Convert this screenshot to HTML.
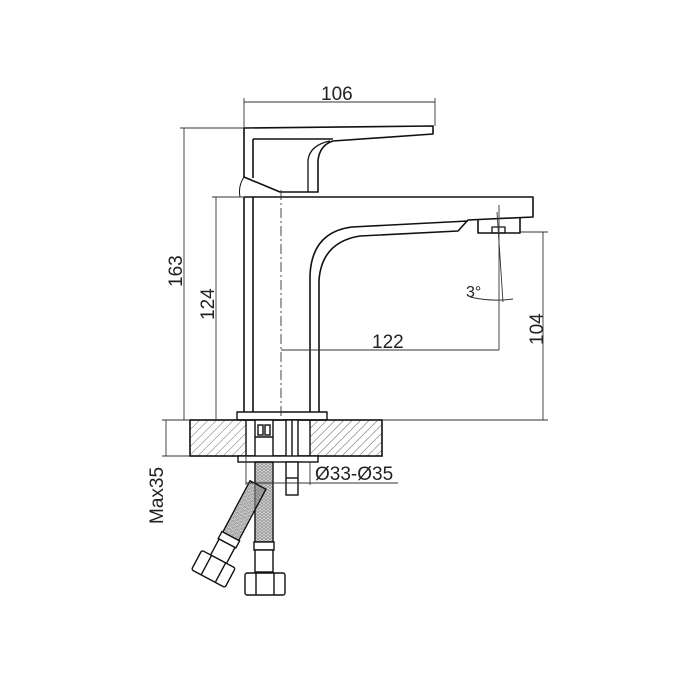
<!DOCTYPE html>
<html><head><meta charset="utf-8"><style>
html,body{margin:0;padding:0;background:#fff}
svg{display:block}
text{font-family:"Liberation Sans",sans-serif;font-size:19px;fill:#222}
</style></head><body>
<svg width="700" height="700" viewBox="0 0 700 700" xmlns="http://www.w3.org/2000/svg">
<defs>
<pattern id="hatch" patternUnits="userSpaceOnUse" width="6" height="6" patternTransform="rotate(45)">
<line x1="0" y1="0" x2="0" y2="6" stroke="#555" stroke-width="0.9"/>
</pattern>
<pattern id="braid" patternUnits="userSpaceOnUse" width="4" height="3">
<path d="M0 0 L2 1.5 L4 0 M0 1.5 L2 3 L4 1.5" stroke="#888" stroke-width="0.8" fill="none"/>
</pattern>
</defs>
<g stroke="#111" stroke-width="1.6" fill="none" stroke-linejoin="round">
<path d="M244 128 L433 126 L433 134 L333 141 Q320 145 318 160 L318 192 L280 192 L244 177 Z" fill="#fff"/>
<path d="M253 139 L253 178 M253 139 L333 139"/>
<path d="M308 192 L308 160 Q310 145 330 141" stroke-width="1.3"/>
<path d="M244 177 Q238 186 240 197" stroke-width="1"/>
<path d="M244 197 L533 197 L533 217 L468 220 L458 231 L360 236 Q322 242 319 280 L319 412 M310 412 L310 275 Q312 232 352 227 L468 221"/>
<line x1="244" y1="197" x2="244" y2="412"/>
<line x1="253" y1="197" x2="253" y2="412"/>
<path d="M478 219 L478 233 L520 233 L520 217"/>
<rect x="492" y="227" width="13" height="6" stroke-width="1.3"/>
<rect x="237" y="412" width="90" height="8" fill="#fff" stroke-width="1.4"/>
</g>
<rect x="190" y="420" width="192" height="36" fill="url(#hatch)" stroke="#111" stroke-width="1.6"/>
<rect x="246" y="421" width="64" height="34" fill="#fff"/>
<g stroke="#111" stroke-width="1.4" fill="none">
<line x1="246" y1="420" x2="246" y2="456"/><line x1="310" y1="420" x2="310" y2="456"/>
<rect x="255" y="420" width="18" height="42" fill="#fff"/>
<rect x="258" y="425" width="5" height="10"/><rect x="265" y="425" width="5" height="10"/>
<line x1="255" y1="437" x2="273" y2="437"/>
<rect x="286" y="420" width="12" height="42" fill="#fff"/>
<line x1="292" y1="420" x2="292" y2="462"/>
<rect x="238" y="456" width="80" height="6" fill="#fff"/>
<rect x="286" y="462" width="12" height="33" fill="#fff"/>
<line x1="286" y1="478" x2="298" y2="478"/>
<rect x="255" y="462" width="18" height="80" fill="url(#braid)"/>
<rect x="254" y="542" width="20" height="8" fill="#fff"/>
<rect x="255" y="550" width="18" height="22" fill="#fff"/>
<rect x="245" y="573" width="40" height="22" rx="2" fill="#fff"/>
<line x1="256" y1="573" x2="256" y2="595"/><line x1="274" y1="573" x2="274" y2="595"/>
<g transform="translate(258 485) rotate(28)">
<rect x="-9" y="0" width="18" height="58" fill="url(#braid)"/>
<rect x="-10" y="58" width="20" height="8" fill="#fff"/>
<rect x="-9" y="66" width="18" height="18" fill="#fff"/>
<rect x="-19" y="84" width="38" height="22" rx="2" fill="#fff"/>
<line x1="-8" y1="84" x2="-8" y2="106"/><line x1="8" y1="84" x2="8" y2="106"/>
</g>
</g>
<g stroke="#333" stroke-width="0.9" fill="none">
<line x1="244" y1="98" x2="244" y2="128"/><line x1="435" y1="98" x2="435" y2="126"/>
<line x1="244" y1="102" x2="435" y2="102"/>
<line x1="180" y1="128" x2="244" y2="128"/>
<line x1="184" y1="128" x2="184" y2="420"/>
<line x1="212" y1="197" x2="244" y2="197"/>
<line x1="216" y1="197" x2="216" y2="420"/>
<line x1="180" y1="420" x2="190" y2="420"/>
<line x1="382" y1="420" x2="548" y2="420"/>
<line x1="520" y1="232" x2="548" y2="232"/>
<line x1="543" y1="232" x2="543" y2="420"/>
<line x1="281" y1="190" x2="281" y2="420" stroke-dasharray="10 3 2 3"/>
<line x1="281" y1="350" x2="499" y2="350"/>
<line x1="499" y1="205" x2="499" y2="350"/>
<line x1="497" y1="212" x2="503" y2="302"/>
<path d="M470 297 Q492 302 513 299"/>
<line x1="162" y1="456" x2="190" y2="456"/>
<line x1="162" y1="420" x2="190" y2="420"/>
<line x1="166" y1="420" x2="166" y2="456"/>
<line x1="246" y1="456" x2="246" y2="485"/>
<line x1="310" y1="462" x2="310" y2="485"/>
<line x1="246" y1="483" x2="398" y2="483"/>
</g>
<text x="321" y="100">106</text>
<text x="372" y="348">122</text>
<text x="466" y="297" style="font-size:16px">3°</text>
<text x="0" y="0" transform="translate(182 287) rotate(-90)">163</text>
<text x="0" y="0" transform="translate(214 320) rotate(-90)">124</text>
<text x="0" y="0" transform="translate(543 345) rotate(-90)">104</text>
<text x="0" y="0" transform="translate(163 524) rotate(-90)">Max35</text>
<text x="315" y="480">Ø33-Ø35</text>
</svg>
</body></html>
